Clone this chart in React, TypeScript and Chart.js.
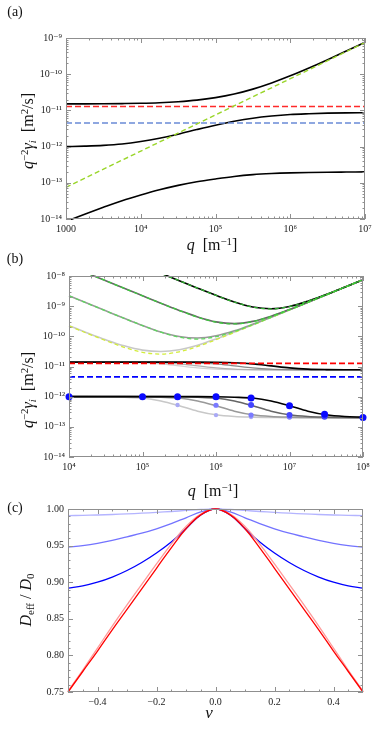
import React, { useEffect, useRef } from 'react';
import { Chart, registerables } from 'chart.js';
Chart.register(...registerables);

// ---------------- DATA ----------------
// Panel (a): q grid (quarter decades 1e3..1e7)
const qA = [1000, 1778, 3162, 5623, 1e4, 17783, 31623, 56234, 1e5, 177828, 316228, 562341, 1e6, 1778279, 3162278, 5623413, 1e7];
const aUpper = [1.51e-11, 1.51e-11, 1.52e-11, 1.54e-11, 1.57e-11, 1.63e-11, 1.74e-11, 1.92e-11, 2.25e-11, 2.83e-11, 3.87e-11, 5.72e-11, 9.0e-11, 1.484e-10, 2.52e-10, 4.37e-10, 7.65e-10];
const aMiddle = [1.0e-12, 1.03e-12, 1.08e-12, 1.18e-12, 1.38e-12, 1.7e-12, 2.2e-12, 2.95e-12, 3.9e-12, 5.0e-12, 6.1e-12, 7.0e-12, 7.7e-12, 8.1e-12, 8.4e-12, 8.55e-12, 8.6e-12];
const aLower = [8.5e-15, 1.35e-14, 2.1e-14, 3.2e-14, 4.6e-14, 6.4e-14, 8.5e-14, 1.07e-13, 1.28e-13, 1.5e-13, 1.68e-13, 1.8e-13, 1.88e-13, 1.93e-13, 1.96e-13, 1.98e-13, 2.0e-13];
const aLineQ = [1000, 1e7];
const aGreen = [7.5e-14, 7.5e-10];
const aRed = [1.28e-11, 1.28e-11];
const aBlue = [4.5e-12, 4.5e-12];

// Panel (b): q grid (quarter decades 1e4..1e8)
const qB = [1e4, 17783, 31623, 56234, 1e5, 177828, 316228, 562341, 1e6, 1778279, 3162278, 5623413, 1e7, 17782794, 31622777, 56234133, 1e8];
const bUp0Dash = [2.21e-10, 1.25e-10, 7.2e-11, 4.33e-11, 2.95e-11, 2.57e-11, 3.07e-11, 4.61e-11, 7.72e-11, 1.346e-10, 2.377e-10, 4.22e-10, 7.5e-10, 1.334e-9, 2.37e-9, 4.22e-9, 7.5e-9];
const bUp0 = [2.25e-10, 1.3e-10, 7.7e-11, 4.85e-11, 3.5e-11, 3.15e-11, 3.6e-11, 5.1e-11, 8.2e-11, 1.39e-10, 2.42e-10, 4.26e-10, 7.55e-10, 1.34e-9, 2.375e-9, 4.22e-9, 7.5e-9];
const bUp1Dash = [2.2e-9, 1.237e-9, 6.98e-10, 3.95e-10, 2.275e-10, 1.37e-10, 9.33e-11, 8.13e-11, 9.7e-11, 1.458e-10, 2.44e-10, 4.26e-10, 7.52e-10, 1.334e-9, 2.37e-9, 4.22e-9, 7.5e-9];
const bUp1 = [2.2e-9, 1.24e-9, 7.0e-10, 3.97e-10, 2.29e-10, 1.39e-10, 9.9e-11, 8.8e-11, 1.04e-10, 1.52e-10, 2.5e-10, 4.3e-10, 7.55e-10, 1.337e-9, 2.372e-9, 4.22e-9, 7.5e-9];
const bUp2Dash = [2.2e-8, 1.237e-8, 6.96e-9, 3.91e-9, 2.21e-9, 1.25e-9, 7.2e-10, 4.33e-10, 2.95e-10, 2.57e-10, 3.07e-10, 4.61e-10, 7.72e-10, 1.346e-9, 2.377e-9, 4.22e-9, 7.5e-9];
const bUp2 = [2.2e-8, 1.237e-8, 6.96e-9, 3.91e-9, 2.21e-9, 1.25e-9, 7.25e-10, 4.4e-10, 3.02e-10, 2.64e-10, 3.14e-10, 4.67e-10, 7.77e-10, 1.35e-9, 2.38e-9, 4.22e-9, 7.5e-9];
const bUp3Dash = [null, null, null, null, 2.2e-8, 1.237e-8, 6.98e-9, 3.95e-9, 2.275e-9, 1.37e-9, 9.33e-10, 8.13e-10, 9.7e-10, 1.458e-9, 2.44e-9, 4.26e-9, 7.52e-9];
const bUp3 = [null, null, null, null, 2.2e-8, 1.237e-8, 6.98e-9, 3.95e-9, 2.28e-9, 1.375e-9, 9.4e-10, 8.2e-10, 9.76e-10, 1.462e-9, 2.443e-9, 4.26e-9, 7.52e-9];
const bMid0 = [1.4e-11, 1.4e-11, 1.4e-11, 1.38e-11, 1.33e-11, 1.22e-11, 1.05e-11, 9.0e-12, 8.2e-12, 7.9e-12, 7.8e-12, 7.8e-12, 7.8e-12, 7.8e-12, 7.8e-12, 7.8e-12, 7.8e-12];
const bMid1 = [1.4e-11, 1.4e-11, 1.4e-11, 1.4e-11, 1.38e-11, 1.33e-11, 1.22e-11, 1.05e-11, 9.0e-12, 8.2e-12, 7.9e-12, 7.8e-12, 7.8e-12, 7.8e-12, 7.8e-12, 7.8e-12, 7.8e-12];
const bMid2 = [1.4e-11, 1.4e-11, 1.4e-11, 1.4e-11, 1.4e-11, 1.4e-11, 1.38e-11, 1.33e-11, 1.22e-11, 1.05e-11, 9.0e-12, 8.2e-12, 7.9e-12, 7.8e-12, 7.8e-12, 7.8e-12, 7.8e-12];
const bMid3 = [1.4e-11, 1.4e-11, 1.4e-11, 1.4e-11, 1.4e-11, 1.4e-11, 1.4e-11, 1.4e-11, 1.38e-11, 1.33e-11, 1.22e-11, 1.05e-11, 9.0e-12, 8.2e-12, 7.9e-12, 7.8e-12, 7.8e-12];
const bLow0 = [1e-12, 1e-12, 0.99e-12, 0.96e-12, 0.9e-12, 0.72e-12, 0.5e-12, 0.33e-12, 0.25e-12, 0.22e-12, 0.21e-12, 0.205e-12, 0.2e-12, 0.2e-12, 0.2e-12, 0.2e-12, 0.2e-12];
const bLow1 = [1e-12, 1e-12, 1e-12, 1e-12, 0.99e-12, 0.96e-12, 0.9e-12, 0.72e-12, 0.5e-12, 0.33e-12, 0.25e-12, 0.22e-12, 0.21e-12, 0.205e-12, 0.2e-12, 0.2e-12, 0.2e-12];
const bLow2 = [1e-12, 1e-12, 1e-12, 1e-12, 1e-12, 1e-12, 0.99e-12, 0.96e-12, 0.9e-12, 0.72e-12, 0.5e-12, 0.33e-12, 0.25e-12, 0.22e-12, 0.21e-12, 0.205e-12, 0.2e-12];
const bLow3 = [1e-12, 1e-12, 1e-12, 1e-12, 1e-12, 1e-12, 1e-12, 1e-12, 0.99e-12, 0.96e-12, 0.9e-12, 0.72e-12, 0.5e-12, 0.33e-12, 0.25e-12, 0.22e-12, 0.21e-12];
const dots3Q = [1e4, 1e5, 3e5, 1e6, 3e6, 1e7, 3e7, 1e8];
const dots3V = [1e-12, 1e-12, 1e-12, 1e-12, 0.9e-12, 0.5e-12, 0.26e-12, 0.205e-12];
const dots2Q = [1e6, 3e6, 1e7, 3e7];
const dots2V = [0.99e-12, 0.53e-12, 0.245e-12, 0.215e-12];
const dots1Q = [3e5, 1e6, 3e6, 1e7];
const dots1V = [0.99e-12, 0.52e-12, 0.245e-12, 0.21e-12];
const dots0Q = [1e5, 3e5, 1e6, 3e6];
const dots0V = [0.99e-12, 0.53e-12, 0.245e-12, 0.21e-12];
const bLineQ = [1e4, 1e8];
const bRed = [1.26e-11, 1.26e-11];
const bBlue = [4.5e-12, 4.5e-12];

// Panel (c)
const nu = [-0.5, -0.45, -0.4, -0.35, -0.3, -0.25, -0.2, -0.15, -0.1, -0.05, 0, 0.05, 0.1, 0.15, 0.2, 0.25, 0.3, 0.35, 0.4, 0.45, 0.5];
const cRed = [0.75, 0.778, 0.806, 0.835, 0.863, 0.891, 0.919, 0.947, 0.973, 0.992, 1.0, 0.992, 0.973, 0.947, 0.919, 0.891, 0.863, 0.835, 0.806, 0.778, 0.75];
const cPink = [0.751, 0.78, 0.81, 0.84, 0.869, 0.897, 0.925, 0.952, 0.976, 0.993, 1.0, 0.993, 0.976, 0.952, 0.925, 0.897, 0.869, 0.84, 0.81, 0.78, 0.751];
const cBlue = [0.892, 0.895, 0.9, 0.907, 0.916, 0.927, 0.94, 0.955, 0.973, 0.992, 1.0, 0.992, 0.973, 0.955, 0.94, 0.927, 0.916, 0.907, 0.9, 0.895, 0.892];
const cMidBlue = [0.948, 0.95, 0.953, 0.957, 0.962, 0.967, 0.973, 0.98, 0.988, 0.996, 1.0, 0.996, 0.988, 0.98, 0.973, 0.967, 0.962, 0.957, 0.953, 0.95, 0.948];
const cLightBlue = [0.991, 0.9913, 0.9918, 0.9925, 0.9933, 0.9943, 0.9954, 0.9966, 0.998, 0.9993, 1.0, 0.9993, 0.998, 0.9966, 0.9954, 0.9943, 0.9933, 0.9925, 0.9918, 0.9913, 0.991];

// Ticks
const aXTicks = [1e3, 1e4, 1e5, 1e6, 1e7];
const aYTicks = [1e-14, 1e-13, 1e-12, 1e-11, 1e-10, 1e-9];
const bXTicks = [1e4, 1e5, 1e6, 1e7, 1e8];
const bYTicks = [1e-14, 1e-13, 1e-12, 1e-11, 1e-10, 1e-9, 1e-8];
const cXTicks = [-0.4, -0.2, 0, 0.2, 0.4];
const cXMinor = [-0.45, -0.35, -0.3, -0.25, -0.15, -0.1, -0.05, 0.05, 0.1, 0.15, 0.25, 0.3, 0.35, 0.45];
const cYTicks = [0.75, 0.8, 0.85, 0.9, 0.95, 1.0];
const cYMinor = [0.76, 0.77, 0.78, 0.79, 0.81, 0.82, 0.83, 0.84, 0.86, 0.87, 0.88, 0.89, 0.91, 0.92, 0.93, 0.94, 0.96, 0.97, 0.98, 0.99];

// ---------------- HELPERS ----------------
const serif = '"Liberation Serif", "DejaVu Serif", serif';
const SUP: Record<string, string> = { '-': '⁻', '0': '⁰', '1': '¹', '2': '²', '3': '³', '4': '⁴', '5': '⁵', '6': '⁶', '7': '⁷', '8': '⁸', '9': '⁹' };
const sup = (s: string) => s.split('').map((c) => SUP[c] ?? c).join('');
const pow10Label = (v: number) => '10' + sup(String(Math.round(Math.log10(v))));

const logMinor = (ticks: number[]) => {
  const out: number[] = [];
  for (let i = 0; i < ticks.length - 1; i++) for (let k = 2; k <= 9; k++) out.push(ticks[i] * k);
  return out;
};

const pts = (xs: number[], ys: (number | null)[]) => xs.map((x, i) => ({ x, y: ys[i] }));

const framePlugin = {
  id: 'frameTicks',
  afterDatasetsDraw(chart: any, _a: any, opts: any) {
    const { ctx, chartArea } = chart;
    const L = Math.round(chartArea.left), R = Math.round(chartArea.right);
    const T = Math.round(chartArea.top), B = Math.round(chartArea.bottom);
    const xs = chart.scales.x, ys = chart.scales.y;
    ctx.save();
    ctx.strokeStyle = '#8f8f8f';
    ctx.lineWidth = 1;
    ctx.beginPath();
    const seg = (x1: number, y1: number, x2: number, y2: number) => { ctx.moveTo(x1, y1); ctx.lineTo(x2, y2); };
    const xt = (vals: number[], len: number) => vals.forEach((v) => {
      const p = Math.round(xs.getPixelForValue(v)) + 0.5;
      seg(p, B, p, B - len); seg(p, T, p, T + len);
    });
    const yt = (vals: number[], len: number) => vals.forEach((v) => {
      const p = Math.round(ys.getPixelForValue(v)) + 0.5;
      seg(L, p, L + len, p); seg(R, p, R - len, p);
    });
    xt(opts.xMajor || [], 5); xt(opts.xMinor || [], 2.5);
    yt(opts.yMajor || [], 5); yt(opts.yMinor || [], 2.5);
    ctx.stroke();
    ctx.strokeRect(L + 0.5, T + 0.5, R - L - 1, B - T - 1);
    ctx.restore();
  },
};

type Area = { l: number; r: number; t: number; b: number };
const XH = 16;

function makeOptions(area: Area, top: number, height: number, x: any, y: any, frame: any) {
  const tickFont = { family: serif, size: 10 };
  return {
    responsive: false,
    animation: false,
    devicePixelRatio: 1,
    layout: { padding: { left: 0, right: 382 - area.r, top: area.t - top, bottom: top + height - area.b - XH } },
    plugins: { legend: { display: false }, tooltip: { enabled: false }, frameTicks: frame },
    scales: {
      x: {
        type: x.type, min: x.min, max: x.max,
        grid: { display: false, drawTicks: false }, border: { display: false },
        afterBuildTicks: (s: any) => { s.ticks = x.ticks.map((v: number) => ({ value: v })); },
        afterFit: (s: any) => { s.height = XH; },
        ticks: { font: tickFont, color: '#222', padding: 4, maxRotation: 0, autoSkip: false, callback: x.label },
      },
      y: {
        type: y.type, min: y.min, max: y.max,
        grid: { display: false, drawTicks: false }, border: { display: false },
        afterBuildTicks: (s: any) => { s.ticks = y.ticks.map((v: number) => ({ value: v })); },
        afterFit: (s: any) => { s.width = area.l; },
        ticks: { font: tickFont, color: '#222', padding: 4, autoSkip: false, callback: y.label },
      },
    },
    elements: { point: { radius: 0 } },
  };
}

const line = (data: any[], color: string, width: number, dash: number[] = [], smooth = 'monotone') => ({
  data, borderColor: color, backgroundColor: color, borderWidth: width, borderDash: dash,
  pointRadius: 0, fill: false, cubicInterpolationMode: smooth, tension: 0.4, clip: 1,
});
const dots = (data: any[], color: string, r: number) => ({
  data, showLine: false, pointRadius: r, pointBackgroundColor: color, pointBorderColor: color,
  pointBorderWidth: 0, borderColor: color, backgroundColor: color, clip: false,
});

function configA(area: Area, top: number, height: number) {
  return {
    type: 'line',
    data: {
      datasets: [
        line(pts(aLineQ, aGreen), '#9ad62a', 1.4, [5, 3]),
        line(pts(aLineQ, aRed), '#ff2a2a', 1.4, [6, 3]),
        line(pts(aLineQ, aBlue), '#6a8bd6', 1.4, [6, 3]),
        line(pts(qA, aUpper), '#000', 1.6),
        line(pts(qA, aMiddle), '#000', 1.6),
        line(pts(qA, aLower), '#000', 1.6),
      ],
    },
    options: makeOptions(area, top, height,
      { type: 'logarithmic', min: 1e3, max: 1e7, ticks: aXTicks, label: (v: number) => (v === 1000 ? '1000' : pow10Label(v)) },
      { type: 'logarithmic', min: 1e-14, max: 1e-9, ticks: aYTicks, label: (v: number) => pow10Label(v) },
      { xMajor: aXTicks, xMinor: logMinor(aXTicks), yMajor: aYTicks, yMinor: logMinor(aYTicks) }),
    plugins: [framePlugin],
  };
}

function configB(area: Area, top: number, height: number) {
  return {
    type: 'line',
    data: {
      datasets: [
        dots(pts(dots3Q, dots3V), '#0a0aff', 3.5),
        dots(pts(dots2Q, dots2V), '#4444ff', 3.0),
        dots(pts(dots1Q, dots1V), '#7a7aff', 2.6),
        dots(pts(dots0Q, dots0V), '#a9a9f5', 2.2),
        line(pts(qB, bUp3Dash), '#30b030', 1.3, [4, 3]),
        line(pts(qB, bUp2Dash), '#3ccc3c', 1.3, [4, 3]),
        line(pts(qB, bUp1Dash), '#5ed65e', 1.3, [4, 3]),
        line(pts(qB, bUp0Dash), '#d2ec3a', 1.3, [4, 3]),
        line(pts(bLineQ, bRed), '#ff0000', 1.8, [6, 3]),
        line(pts(bLineQ, bBlue), '#0000ff', 1.8, [6, 3]),
        line(pts(qB, bUp3), '#000', 1.6),
        line(pts(qB, bMid3), '#000', 1.6),
        line(pts(qB, bLow3), '#000', 1.6),
        line(pts(qB, bUp2), '#666', 1.6),
        line(pts(qB, bMid2), '#888', 1.3),
        line(pts(qB, bLow2), '#666', 1.6),
        line(pts(qB, bUp1), '#999', 1.6),
        line(pts(qB, bMid1), '#b0b0b0', 1.3),
        line(pts(qB, bLow1), '#999', 1.6),
        line(pts(qB, bUp0), '#c8c8c8', 1.6),
        line(pts(qB, bMid0), '#d4d4d4', 1.3),
        line(pts(qB, bLow0), '#c8c8c8', 1.6),
      ],
    },
    options: makeOptions(area, top, height,
      { type: 'logarithmic', min: 1e4, max: 1e8, ticks: bXTicks, label: (v: number) => pow10Label(v) },
      { type: 'logarithmic', min: 1e-14, max: 1e-8, ticks: bYTicks, label: (v: number) => pow10Label(v) },
      { xMajor: bXTicks, xMinor: logMinor(bXTicks), yMajor: bYTicks, yMinor: logMinor(bYTicks) }),
    plugins: [framePlugin],
  };
}

function configC(area: Area, top: number, height: number) {
  return {
    type: 'line',
    data: {
      datasets: [
        line(pts(nu, cRed), '#ff0000', 1.3, [], 'default'),
        line(pts(nu, cPink), '#ff9a9a', 1.3, [], 'default'),
        line(pts(nu, cBlue), '#0000ff', 1.3, [], 'default'),
        line(pts(nu, cMidBlue), '#7373ff', 1.3, [], 'default'),
        line(pts(nu, cLightBlue), '#b4b4ff', 1.3, [], 'default'),
      ],
    },
    options: makeOptions(area, top, height,
      { type: 'linear', min: -0.5, max: 0.5, ticks: cXTicks, label: (v: number) => (Math.abs(v) < 1e-9 ? '0.0' : (v < 0 ? '−' : '') + Math.abs(v).toFixed(1)) },
      { type: 'linear', min: 0.75, max: 1.0, ticks: cYTicks, label: (v: number) => v.toFixed(2) },
      { xMajor: cXTicks, xMinor: cXMinor, yMajor: cYTicks, yMinor: cYMinor }),
    plugins: [framePlugin],
  };
}

function ChartPanel({ top, height, area, build }: { top: number; height: number; area: Area; build: any }) {
  const ref = useRef<HTMLCanvasElement>(null);
  useEffect(() => {
    const ch = new Chart(ref.current as HTMLCanvasElement, build(area, top, height) as any);
    return () => ch.destroy();
  }, []);
  return <canvas ref={ref} width={382} height={height} style={{ position: 'absolute', left: 0, top, width: 382, height }} />;
}

function Text({ x, y, size = 15, rotate = false, children }: any) {
  return (
    <div style={{
      position: 'absolute', left: x, top: y, fontFamily: serif, fontSize: size, lineHeight: 1, color: '#111',
      whiteSpace: 'nowrap', transform: `translate(-50%, -50%)${rotate ? ' rotate(-90deg)' : ''}`,
    }}>{children}</div>
  );
}

const supS: React.CSSProperties = { fontSize: '0.68em', verticalAlign: '0.5em', lineHeight: 0 };
const subS: React.CSSProperties = { fontSize: '0.68em', verticalAlign: '-0.25em', lineHeight: 0 };

const YTitleQ = () => (
  <span><i>q</i><span style={supS}>−2</span><i>γ</i><span style={{ ...subS, fontStyle: 'italic' }}>i</span>&nbsp;&nbsp;[m<span style={supS}>2</span>/s]</span>
);
const XTitleQ = () => (
  <span><i>q</i>&nbsp;&nbsp;[m<span style={supS}>−1</span>]</span>
);

export default function App() {
  return (
    <div style={{ position: 'absolute', left: 0, top: 0, width: 382, height: 751, background: '#fff', overflow: 'hidden' }}>
      <ChartPanel top={0} height={240} area={{ l: 66, r: 365, t: 38, b: 219 }} build={configA} />
      <ChartPanel top={250} height={230} area={{ l: 69, r: 363, t: 276, b: 457 }} build={configB} />
      <ChartPanel top={495} height={215} area={{ l: 68, r: 363, t: 509, b: 692 }} build={configC} />

      <Text x={15} y={12} size={14}>(a)</Text>
      <Text x={15} y={259} size={14}>(b)</Text>
      <Text x={15} y={508} size={14}>(c)</Text>

      <Text x={28} y={131} size={16} rotate><YTitleQ /></Text>
      <Text x={212} y={245} size={16}><XTitleQ /></Text>

      <Text x={28} y={390} size={16} rotate><YTitleQ /></Text>
      <Text x={213} y={491} size={16}><XTitleQ /></Text>

      <Text x={26} y={600} size={16} rotate><span><i>D</i><span style={subS}>eff</span>&nbsp;/&nbsp;<i>D</i><span style={subS}>0</span></span></Text>
      <Text x={209} y={712} size={17}><i>ν</i></Text>
    </div>
  );
}
